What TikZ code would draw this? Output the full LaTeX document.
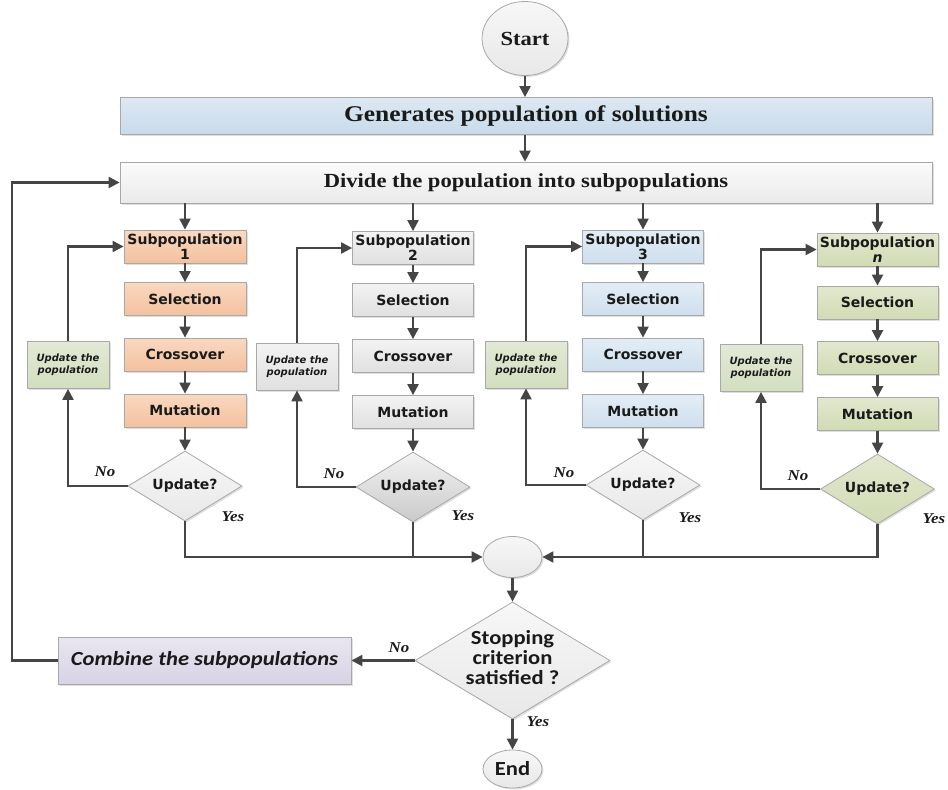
\documentclass[tikz,border=0pt]{standalone}
\usepackage{fontspec}
\setmainfont{Liberation Serif}
\newfontfamily\dvfont{DejaVu Sans}
\newfontfamily\cbfont{Carlito}
\usepackage{graphicx}
\usetikzlibrary{arrows.meta,shapes.geometric,shadows}
\newcommand{\hstr}[1]{\scalebox{1.13}[1]{#1}}
\definecolor{linec}{HTML}{454545}
\definecolor{bordc}{HTML}{A8A8A8}
\definecolor{peachT}{HTML}{FAD8C0}\definecolor{peachB}{HTML}{F3C19E}
\definecolor{grayT}{HTML}{F3F3F3}\definecolor{grayB}{HTML}{E0E0E0}
\definecolor{blueT}{HTML}{E3EDF6}\definecolor{blueB}{HTML}{CFDFEE}
\definecolor{oliveT}{HTML}{E2E8CF}\definecolor{oliveB}{HTML}{D1DBB3}
\definecolor{greenT}{HTML}{E2E9D5}\definecolor{greenB}{HTML}{D3DEC0}
\definecolor{lavT}{HTML}{E9E6F1}\definecolor{lavB}{HTML}{D8D3E5}
\definecolor{genT}{HTML}{DDE9F4}\definecolor{genB}{HTML}{C8DAEA}
\definecolor{divT}{HTML}{FBFBFB}\definecolor{divB}{HTML}{EAEAEA}
\definecolor{lgT}{HTML}{F7F7F7}\definecolor{lgB}{HTML}{E8E8E8}
\definecolor{txt}{HTML}{1A1A1A}
\tikzset{
  base/.style={draw=bordc, line width=0.8pt, inner sep=0pt, text=txt,
    drop shadow={shadow xshift=1.5pt, shadow yshift=-1.5pt, opacity=0.25}},
  stepbox/.style={base, rectangle, minimum width=121pt, minimum height=33pt, align=center,
    font=\dvfont\bfseries\fontsize{14}{15}\selectfont},
  updbox/.style={base, rectangle, minimum width=82pt, minimum height=47pt, align=center,
    font=\dvfont\bfseries\itshape\fontsize{10}{12.3}\selectfont},
  decide/.style={base, diamond, aspect=1.6, minimum width=114pt, minimum height=70pt,
    font=\dvfont\bfseries\fontsize{14}{15}\selectfont},
  term/.style={base, ellipse},
  widebox/.style={base, rectangle, minimum width=812pt, font=\bfseries},
  fillc/.style={top color=#1T, bottom color=#1B},
  flow/.style={draw=linec, line width=2.2pt, -{Triangle[length=11pt,width=11pt]}},
  plain/.style={draw=linec, line width=2.2pt},
  lbl/.style={font=\bfseries\itshape\fontsize{15}{17}\selectfont, inner sep=0pt, text=txt}
}
\begin{document}
\begin{tikzpicture}[x=1pt,y=-1pt]
\useasboundingbox (0,0) rectangle (948,790);
% top
\node[term, fillc=lg, minimum width=86pt, minimum height=74pt,
  font=\bfseries\fontsize{20}{22}\selectfont] (start) at (525,38.5) {\hstr{Start}};
\node[widebox, fillc=gen, minimum height=37pt, font=\bfseries\fontsize{22.5}{24}\selectfont]
  (gen) at (526,116) {\hstr{Generates population of solutions}};
\node[widebox, fillc=div, minimum height=41pt, font=\bfseries\fontsize{20}{22}\selectfont]
  (div) at (526,182.5) {\hstr{Divide the population into subpopulations}};
\draw[flow] (start.south) -- (start.south |- gen.north);
\draw[flow] (gen.south -| start.south) -- (start.south |- div.north);

% column 1
\node[stepbox, fillc=peach, minimum width=122pt] (sub1) at (185,246.5) {Subpopulation\\1};
\node[stepbox, fillc=peach, minimum width=122pt] (sel1) at (185,299) {Selection};
\node[stepbox, fillc=peach, minimum width=122pt] (cro1) at (185,354.5) {Crossover};
\node[stepbox, fillc=peach, minimum width=122pt] (mut1) at (185,410.5) {Mutation};
\node[decide, fillc=lg] (dia1) at (185,486) {Update?};
\node[updbox, fillc=green] (upd1) at (68,365) {Update the\\population};
% column 2
\node[stepbox, fillc=gray] (sub2) at (413,248) {Subpopulation\\2};
\node[stepbox, fillc=gray] (sel2) at (413,300) {Selection};
\node[stepbox, fillc=gray] (cro2) at (413,356) {Crossover};
\node[stepbox, fillc=gray] (mut2) at (413,412) {Mutation};
\node[decide, top color=grayT, bottom color=grayB!90!black] (dia2) at (413,487) {Update?};
\node[updbox, fillc=gray] (upd2) at (297,366.5) {Update the\\population};
% column 3
\node[stepbox, fillc=blue] (sub3) at (643,246.5) {Subpopulation\\3};
\node[stepbox, fillc=blue] (sel3) at (643,299) {Selection};
\node[stepbox, fillc=blue] (cro3) at (643,354.5) {Crossover};
\node[stepbox, fillc=blue] (mut3) at (643,411) {Mutation};
\node[decide, fillc=lg] (dia3) at (643,485) {Update?};
\node[updbox, fillc=green] (upd3) at (526,364.5) {Update the\\population};
% column 4
\node[stepbox, fillc=olive] (sub4) at (877.5,249.5) {Subpopulation\\\textit{n}};
\node[stepbox, fillc=olive] (sel4) at (877.5,302.5) {Selection};
\node[stepbox, fillc=olive] (cro4) at (877.5,358) {Crossover};
\node[stepbox, fillc=olive] (mut4) at (877.5,414) {Mutation};
\node[decide, fillc=olive] (dia4) at (877.5,489) {Update?};
\node[updbox, fillc=green] (upd4) at (761,368) {Update the\\population};

\foreach \i in {1,2,3,4}{
  \draw[flow] (div.south -| sub\i.north) -- (sub\i.north);
  \draw[flow] (sub\i) -- (sel\i);
  \draw[flow] (sel\i) -- (cro\i);
  \draw[flow] (cro\i) -- (mut\i);
  \draw[flow] (mut\i) -- (dia\i);
  \draw[flow] (dia\i.west) -| (upd\i.south);
  \draw[flow] (upd\i.north) |- (sub\i.west);
}
% labels
\node[lbl] (no1) at (105,472) {\hstr{No}};
\node[lbl] (yes1) at (233,517) {\hstr{Yes}};
\node[lbl] (no2) at (334,474) {\hstr{No}};
\node[lbl] (yes2) at (463,516) {\hstr{Yes}};
\node[lbl] (no3) at (564,473) {\hstr{No}};
\node[lbl] (yes3) at (690,518) {\hstr{Yes}};
\node[lbl] (no4) at (798,476) {\hstr{No}};
\node[lbl] (yes4) at (934,519) {\hstr{Yes}};

% merge
\node[term, fillc=lg, minimum width=59pt, minimum height=41pt] (merge) at (512.5,557) {};
\draw[flow] (dia1.south) |- (merge.west);
\draw[plain] (dia2.south) -- (dia2.south |- merge.west);
\draw[flow] (dia4.south) |- (merge.east);
\draw[plain] (dia3.south) -- (dia3.south |- merge.east);

% stopping
\node[decide, fillc=lg, aspect=1.67, minimum width=195pt, minimum height=117pt,
  font=\cbfont\bfseries\fontsize{20}{19}\selectfont] (stop) at (512.5,660.5)
  {\hstr{\begin{tabular}{@{}c@{}}Stopping\\criterion\\satisfied ?\end{tabular}}};
\draw[flow] (merge.south) -- (stop.north);
\node[base, rectangle, fillc=lav, minimum width=293pt, minimum height=47pt,
  font=\cbfont\bfseries\itshape\fontsize{20}{22}\selectfont] (comb) at (204.5,660.5)
  {\hstr{Combine the subpopulations}};
\draw[flow] (stop.west) -- (comb.east);
\node[lbl] (no5) at (399,648) {\hstr{No}};
\coordinate (lp) at (12,660.5);
\draw[flow] (comb.west) -- (lp) |- (div.west);
\node[term, fillc=lg, minimum width=59pt, minimum height=38pt,
  font=\cbfont\bfseries\fontsize{20}{22}\selectfont] (end) at (512.5,769) {\hstr{End}};
\draw[flow] (stop.south) -- (end.north);
\node[lbl] (yes5) at (538,722) {\hstr{Yes}};
\end{tikzpicture}
\end{document}
